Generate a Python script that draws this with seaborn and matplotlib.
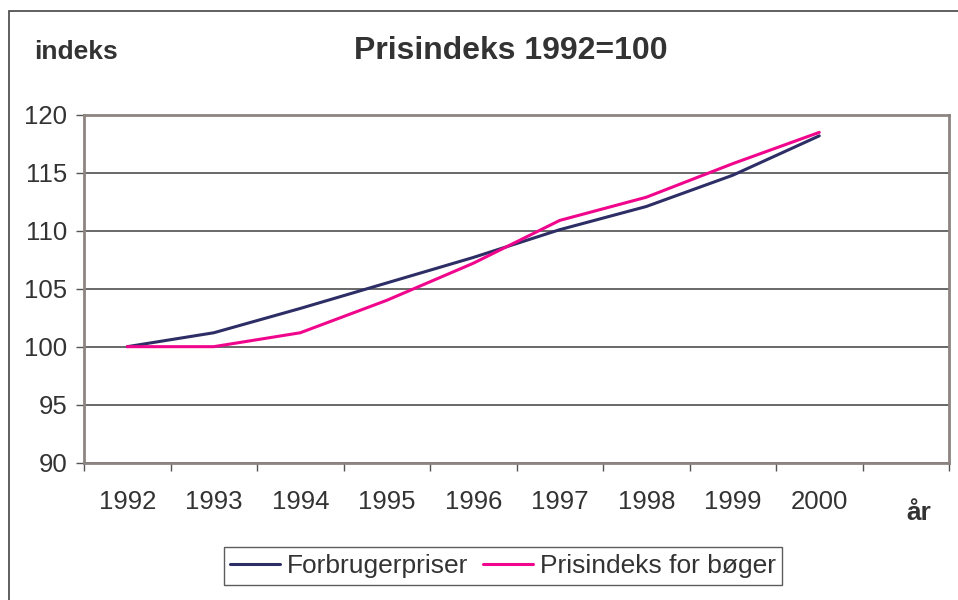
import numpy as np
import pandas as pd
import matplotlib
matplotlib.use("Agg")
import matplotlib.pyplot as plt
import seaborn as sns
from matplotlib.patches import Rectangle
from matplotlib.ticker import FixedLocator

years = ["1992", "1993", "1994", "1995", "1996", "1997", "1998", "1999", "2000"]
forbrugerpriser = [100.0, 101.2, 103.3, 105.5, 107.7, 110.1, 112.1, 114.8, 118.2]
boeger = [100.0, 100.0, 101.2, 104.0, 107.2, 110.9, 112.9, 115.8, 118.5]
series_names = ["Forbrugerpriser", "Prisindeks for bøger"]
series_colors = ["#2e2e66", "#f0068c"]
y_ticks = [90, 95, 100, 105, 110, 115, 120]

df = pd.DataFrame({
    "år": years * 2,
    "indeks": forbrugerpriser + boeger,
    "serie": [series_names[0]] * len(years) + [series_names[1]] * len(years),
})

sns.set_style("white")
plt.rcParams["font.family"] = ["Liberation Sans", "DejaVu Sans"]
TXT = "#333333"

fig = plt.figure(figsize=(9.58, 6), dpi=100)
ax = fig.add_axes([84 / 958, 1 - 462.5 / 600, (949 - 84) / 958, (462.5 - 115) / 600])

sns.lineplot(data=df, x="år", y="indeks", hue="serie", palette=series_colors,
             linewidth=2.2, sort=False, ax=ax, legend=True)

ax.set_xlim(-0.5, 9.5)
ax.set_ylim(90, 120)
ax.set_yticks(y_ticks)
ax.yaxis.grid(True, color="#404040", linewidth=1.1)
ax.set_axisbelow(True)

# year labels centred in their slots, tick marks between slots
ax.set_xticks(range(len(years)))
ax.set_xticklabels(years)
ax.xaxis.set_minor_locator(FixedLocator(np.arange(-0.5, 10.0, 1.0)))
ax.tick_params(axis="x", which="major", length=0, pad=20, labelsize=18.5, labelcolor=TXT)
ax.tick_params(axis="x", which="minor", length=6, width=1, color="#555555", bottom=True)
ax.tick_params(axis="y", length=6, width=1, color="#555555", left=True, pad=6,
               labelsize=18.5, labelcolor=TXT)

for s in ax.spines.values():
    s.set_visible(True)
    s.set_color("#8c8480")
    s.set_linewidth(2)

ax.set_xlabel("")
ax.set_ylabel("")

fig.text(511 / 958, 1 - 51 / 600, "Prisindeks 1992=100", ha="center", va="center",
         fontsize=23, fontweight="bold", color=TXT)
fig.text(34 / 958, 1 - 52 / 600, "indeks", ha="left", va="center",
         fontsize=19, fontweight="bold", color=TXT)
fig.text(919 / 958, 1 - 513 / 600, "år", ha="center", va="center",
         fontsize=19, fontweight="bold", color=TXT)

leg = ax.legend(loc="center", bbox_to_anchor=(503 / 958, 1 - 566 / 600),
                bbox_transform=fig.transFigure, ncol=2, frameon=True, fancybox=False,
                fontsize=19, handlelength=1.9, handletextpad=0.25, columnspacing=0.55,
                borderpad=0.25, borderaxespad=0, labelcolor=TXT)
leg.get_frame().set_edgecolor("#333333")
leg.get_frame().set_linewidth(1)
for h in leg.get_lines():
    h.set_linewidth(2.2)

# outer chart border
fig.patches.append(Rectangle((9 / 958, -0.05), 1.1, 1 - 11 / 600 + 0.05,
                             transform=fig.transFigure, fill=False,
                             edgecolor="#444444", linewidth=1.2))

fig.savefig("out.png", dpi=100)
